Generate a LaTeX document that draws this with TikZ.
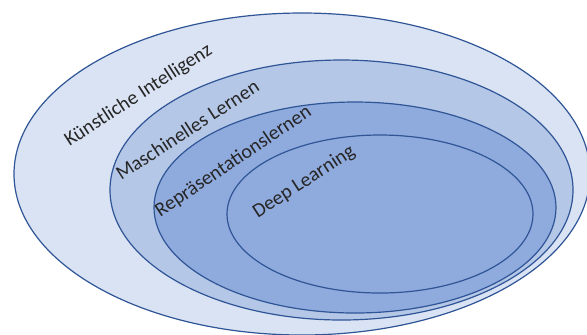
\documentclass[tikz,border=0pt]{standalone}
\usepackage{fontspec}
\setmainfont{Carlito}
\usepackage{tikz}
\usetikzlibrary{shapes.geometric}

\definecolor{rim}{RGB}{47,85,151}
\definecolor{kifill}{RGB}{218,227,243}
\definecolor{mlfill}{RGB}{180,199,231}
\definecolor{rlfill}{RGB}{143,170,220}
\definecolor{dlfill}{RGB}{143,170,220}

\begin{document}
\begin{tikzpicture}[
	x=0.5pt, y=-0.5pt,
	font=\fontsize{10}{12}\selectfont,
	area/.style={draw=rim, line width=0.6pt, ellipse, inner sep=0pt},
	tag/.style={anchor=base, text=black!85}
]
\useasboundingbox (0,0) rectangle (587,334);

\node[area, fill=kifill, minimum width=288pt, minimum height=161pt] (ki) at (302,174) {};
\node[area, fill=mlfill, minimum width=231.5pt, minimum height=130pt] (ml) at (341.5,190) {};
\node[area, fill=rlfill, minimum width=201pt, minimum height=105.5pt] (rl) at (355,207.5) {};
\node[area, fill=dlfill, minimum width=153pt, minimum height=79pt] (dl) at (380,214) {};

\node[tag, rotate=33] (kitext) at (141.5,100) {Künstliche Intelligenz};
\node[tag, rotate=33] (mltext) at (191,135.5) {Maschinelles Lernen};
\node[tag, rotate=34] (rltext) at (236.5,166) {Repräsentationslernen};
\node[tag, rotate=33] (dltext) at (307,186.5) {Deep Learning};

\end{tikzpicture}
\end{document}
